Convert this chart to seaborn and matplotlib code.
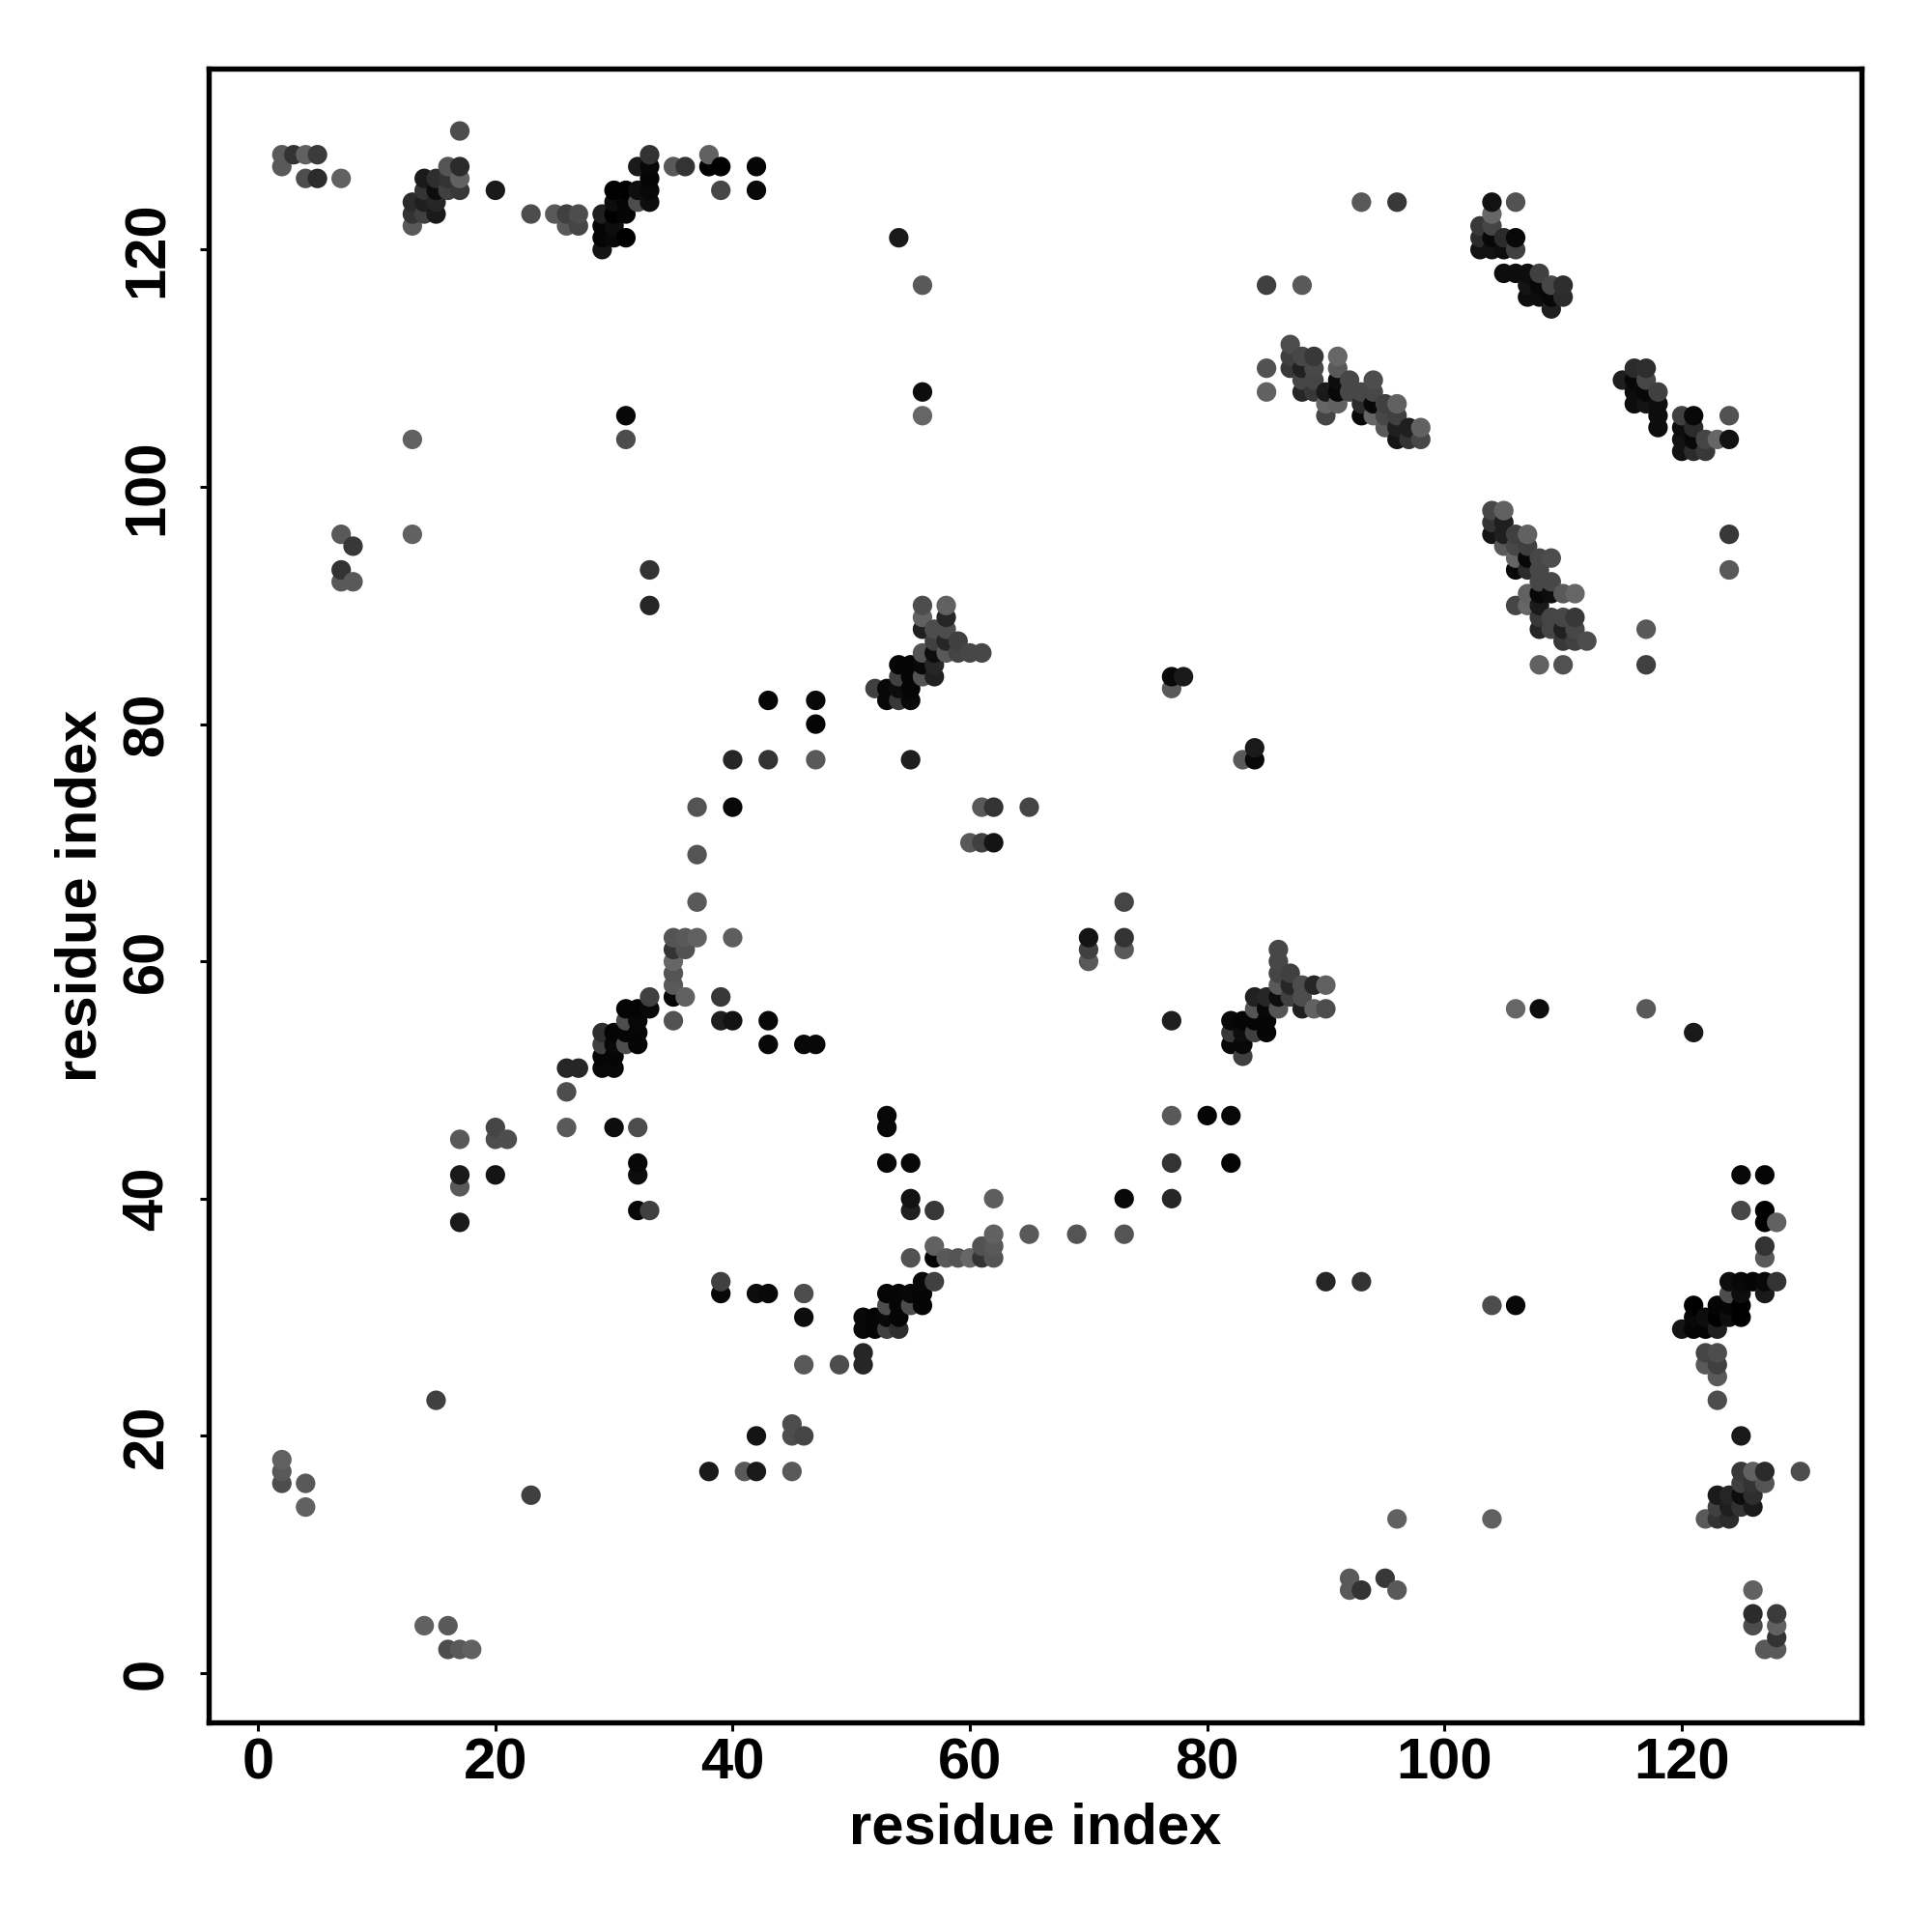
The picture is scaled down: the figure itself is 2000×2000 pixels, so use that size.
"""Residue contact map, drawn from the upper triangle and mirrored."""
import pandas as pd
import matplotlib
matplotlib.use("Agg")
import matplotlib.pyplot as plt
import seaborn as sns

sns.set_theme(style="white")
plt.rcParams["font.family"] = ["Liberation Sans", "DejaVu Sans"]

res_i = [
    2, 2, 2, 4, 4, 15, 17, 17, 17, 17,
    20, 20, 20, 21, 26, 26, 26, 27, 29, 30,
    29, 30, 29, 30, 31, 32, 29, 30, 31, 32,
    31, 32, 35, 39, 40, 43, 31, 32, 33, 33,
    35, 36, 39, 35, 35, 35, 35, 36, 35, 36,
    37, 40, 37, 37, 37, 40, 40, 43, 47, 55,
    47, 43, 47, 43, 46, 47, 30, 32, 32, 32,
    32, 33, 60, 61, 62, 61, 62, 65, 77, 77,
    78, 33, 33, 7, 8, 7, 8, 7, 13, 13,
    31, 31, 56, 56, 56, 54, 85, 88, 93, 96,
    # strand around 52-61 / 82-90
    53, 54, 55, 52, 53, 54, 55, 54, 55, 56,
    57, 54, 55, 56, 57, 56, 57, 58, 59, 60,
    61, 57, 58, 59, 56, 57, 58, 56, 58, 56,
    58,
    # strand around 85-98 / 104-112
    85, 85, 87, 87, 87, 88, 88, 88, 88, 89,
    89, 89, 89, 90, 90, 90, 91, 91, 91, 91,
    91, 92, 92, 93, 93, 93, 94, 94, 94, 94,
    95, 95, 95, 96, 96, 96, 96, 97, 97, 98,
    98,
    # strand around 103-110 / 115-124
    103, 103, 103, 104, 104, 104, 104, 104, 105, 105,
    105, 106, 106, 106, 106, 107, 107, 107, 108, 108,
    108, 109, 109, 109, 110, 110,
    # top left
    2, 2, 3, 4, 5, 4, 5, 7, 13, 13,
    13, 14, 14, 14, 14, 15, 15, 15, 15, 16,
    16, 16, 17, 17, 17, 17, 20, 23, 25, 26,
    26, 27, 27, 29, 29, 29, 29, 30, 30, 30,
    30, 30, 31, 31, 31, 31, 32, 32, 32, 33,
    33, 33, 33, 33, 35, 36, 38, 38, 39, 39,
    42, 42,
]
res_j = [
    16, 17, 18, 14, 16, 23, 38, 41, 42, 45,
    42, 45, 46, 45, 46, 49, 51, 51, 51, 51,
    52, 52, 53, 53, 53, 53, 54, 54, 54, 54,
    55, 55, 55, 55, 55, 55, 56, 56, 56, 57,
    57, 57, 57, 58, 59, 60, 61, 61, 62, 62,
    62, 62, 65, 69, 73, 73, 77, 77, 77, 77,
    80, 82, 82, 53, 53, 53, 46, 46, 43, 42,
    39, 39, 70, 70, 70, 73, 73, 73, 83, 84,
    84, 90, 93, 92, 92, 93, 95, 96, 96, 104,
    104, 106, 106, 108, 117, 121, 117, 117, 124, 124,
    82, 82, 82, 83, 83, 83, 83, 84, 84, 84,
    84, 85, 85, 85, 85, 86, 86, 86, 86, 86,
    86, 87, 87, 87, 88, 88, 88, 89, 89, 90,
    90,
    108, 110, 110, 111, 112, 108, 109, 110, 111, 108,
    109, 110, 111, 106, 107, 108, 107, 108, 109, 110,
    111, 108, 109, 106, 107, 108, 106, 107, 108, 109,
    105, 106, 107, 104, 105, 106, 107, 104, 105, 104,
    105,
    120, 121, 122, 120, 121, 122, 123, 124, 118, 120,
    121, 118, 120, 121, 124, 116, 117, 118, 116, 117,
    118, 115, 116, 117, 116, 117,
    127, 128, 128, 128, 128, 126, 126, 126, 122, 123,
    124, 123, 124, 125, 126, 123, 124, 125, 126, 125,
    126, 127, 125, 126, 127, 130, 125, 123, 123, 122,
    123, 122, 123, 120, 121, 122, 123, 121, 122, 123,
    124, 125, 121, 123, 124, 125, 124, 125, 127, 124,
    125, 126, 127, 128, 127, 127, 127, 128, 125, 127,
    125, 127,
]
# grey level of each contact, 0 is black
shade = [
    .30, .35, .38, .38, .35, .25, .10, .35, .10, .35,
    .08, .30, .27, .30, .35, .30, .15, .15, .03, .03,
    .02, .02, .25, .03, .30, .02, .18, .02, .02, .02,
    .30, .03, .32, .12, .07, .03, .02, .02, .03, .25,
    .02, .38, .22, .35, .33, .40, .20, .32, .33, .35,
    .38, .37, .35, .33, .33, .03, .15, .20, .35, .12,
    .02, .02, .03, .03, .03, .03, .05, .30, .03, .05,
    .03, .25, .35, .25, .08, .35, .20, .27, .35, .03,
    .10, .15, .20, .35, .35, .20, .22, .35, .38, .38,
    .30, .03, .40, .05, .35, .10, .25, .35, .35, .22,
    .03, .22, .03, .25, .03, .05, .02, .25, .02, .33,
    .13, .02, .02, .03, .15, .33, .05, .35, .27, .28,
    .28, .25, .15, .25, .12, .30, .30, .38, .15, .30,
    .38,
    .38, .32, .22, .25, .30, .15, .27, .13, .28, .22,
    .27, .28, .22, .27, .40, .10, .38, .03, .05, .35,
    .40, .28, .28, .03, .17, .28, .40, .03, .28, .30,
    .35, .28, .25, .08, .12, .25, .38, .20, .12, .28,
    .38,
    .07, .17, .22, .07, .03, .27, .40, .07, .05, .05,
    .17, .05, .25, .03, .32, .05, .08, .05, .05, .03,
    .25, .12, .03, .28, .17, .18,
    .35, .35, .20, .38, .23, .30, .17, .38, .35, .20,
    .17, .25, .12, .20, .10, .10, .15, .05, .18, .25,
    .20, .33, .22, .38, .17, .30, .10, .30, .35, .35,
    .25, .27, .30, .08, .02, .02, .12, .03, .05, .00,
    .05, .00, .00, .02, .02, .00, .30, .05, .10, .05,
    .03, .02, .03, .20, .35, .20, .00, .38, .28, .00,
    .03, .02,
]
ticks = [0, 20, 40, 60, 80, 100, 120]

upper = pd.DataFrame({"x": res_i, "y": res_j, "shade": shade})
lower = upper.rename(columns={"x": "y", "y": "x"})
contacts = pd.concat([upper, lower]).sort_values(["x", "y"])

fig = plt.figure(figsize=(10, 10), dpi=200, facecolor="white")
ax = fig.add_axes([0.108, 0.1085, 0.8555, 0.856])

grey_map = {s: str(s) for s in contacts["shade"].unique()}
sns.scatterplot(data=contacts, x="x", y="y", hue="shade", palette=grey_map,
                s=53, linewidth=0, legend=False, ax=ax)

ax.set_xlim(-4.17, 135.15)
ax.set_ylim(-4.15, 135.26)
ax.set_xticks(ticks)
ax.set_yticks(ticks)
ax.tick_params(axis="both", length=3.4, width=1.1, color="black", bottom=True, left=True,
               labelsize=21.5, labelcolor="black")
ax.tick_params(axis="x", pad=2.2)
ax.tick_params(axis="y", pad=9.4)
for lab in ax.get_xticklabels() + ax.get_yticklabels():
    lab.set_fontweight("bold")
for lab in ax.get_yticklabels():
    lab.set_rotation(90)
    lab.set_va("center")
for spine in ax.spines.values():
    spine.set_linewidth(1.95)
    spine.set_color("black")

ax.set_xlabel("residue index", fontsize=21.5, fontweight="bold", color="black", labelpad=4.3)
ax.set_ylabel("residue index", fontsize=21.5, fontweight="bold", color="black", labelpad=5)

fig.savefig("out.png", dpi=200)
plt.close()
